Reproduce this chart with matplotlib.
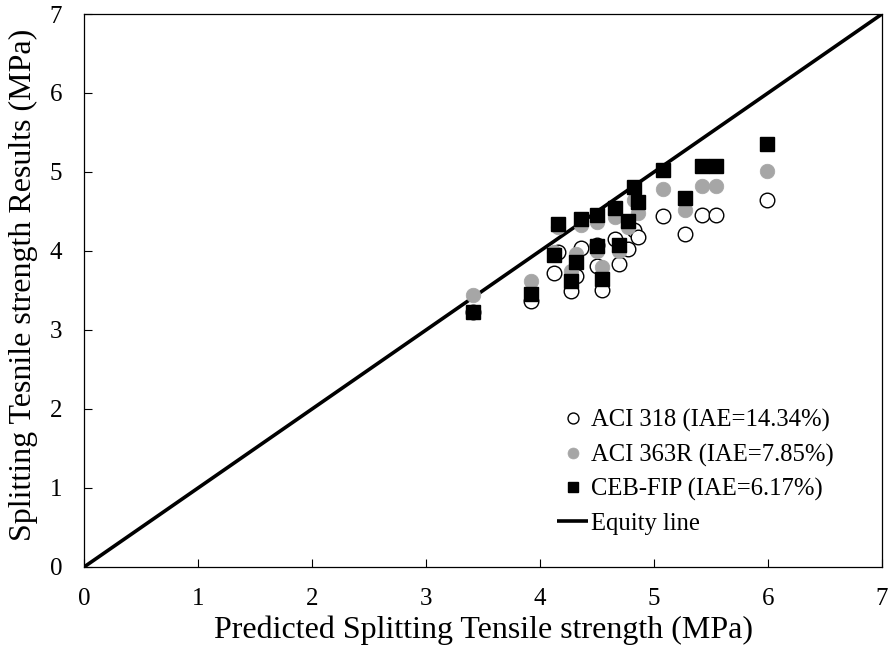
import matplotlib
matplotlib.use("Agg")
import matplotlib.pyplot as plt
import numpy as np

plt.rcParams['font.family'] = ['Liberation Serif', 'DejaVu Serif']

# Predicted splitting tensile strength (MPa)
predicted = [3.41, 3.92, 4.12, 4.16, 4.27, 4.31, 4.36, 4.50, 4.50, 4.54,
             4.66, 4.69, 4.77, 4.82, 4.86, 5.08, 5.27, 5.42, 5.54, 5.99]
# Results for each code (MPa)
aci318 = [3.22, 3.37, 3.72, 3.98, 3.49, 3.68, 4.04, 4.08, 3.81, 3.51,
          4.15, 3.83, 4.03, 4.26, 4.17, 4.44, 4.21, 4.46, 4.46, 4.65]
aci363r = [3.44, 3.62, 3.99, 4.30, 3.74, 3.96, 4.33, 4.37, 4.00, 3.80,
           4.43, 4.00, 4.30, 4.65, 4.48, 4.79, 4.52, 4.82, 4.82, 5.01]
cebfip = [3.22, 3.46, 3.95, 4.34, 3.62, 3.86, 4.40, 4.45, 4.06, 3.65,
          4.54, 4.08, 4.38, 4.81, 4.62, 5.03, 4.67, 5.08, 5.07, 5.35]

labels = ['ACI 318 (IAE=14.34%)', 'ACI 363R (IAE=7.85%)', 'CEB-FIP (IAE=6.17%)', 'Equity line']
equity = [0, 7]
ticks = [0, 1, 2, 3, 4, 5, 6, 7]

fig = plt.figure(figsize=(8.9, 6.49), dpi=100)
ax = fig.add_axes([0.0949, 0.1268, 0.8961, 0.8516])

ax.plot(predicted, aci318, linestyle='none', marker='o', markersize=10.5,
        markerfacecolor='white', markeredgecolor='black', markeredgewidth=1.0,
        label=labels[0], zorder=3)
ax.plot(predicted, aci363r, linestyle='none', marker='o', markersize=10.5,
        markerfacecolor='#a6a6a6', markeredgecolor='#a6a6a6', markeredgewidth=0.5,
        label=labels[1], zorder=4)
ax.plot(predicted, cebfip, linestyle='none', marker='s', markersize=10.5,
        markerfacecolor='black', markeredgecolor='black',
        label=labels[2], zorder=5)
ax.plot(equity, equity, color='black', linewidth=2.6, label=labels[3], zorder=2,
        solid_capstyle='butt')

ax.set_xlim(0, 7)
ax.set_ylim(0, 7)
ax.set_xticks(ticks)
ax.set_yticks(ticks)
ax.tick_params(direction='in', length=5.5, width=0.8, labelsize=18, colors='black', pad=15)
ax.tick_params(axis='y', pad=16)
for s in ax.spines.values():
    s.set_linewidth(0.9)
    s.set_color('black')

ax.set_xlabel('Predicted Splitting Tensile strength (MPa)', fontsize=23, labelpad=4)
ax.set_ylabel('Splitting Tesnile strength Results (MPa)', fontsize=23)
ax.yaxis.set_label_coords(-0.058, 0.51)

leg = ax.legend(loc='upper left', bbox_to_anchor=(0.593, 0.285), frameon=False,
                fontsize=17.7, handlelength=1.25, handletextpad=0.1,
                labelspacing=0.46, borderaxespad=0, borderpad=0, markerscale=0.75)

fig.savefig('out.png', dpi=100)
